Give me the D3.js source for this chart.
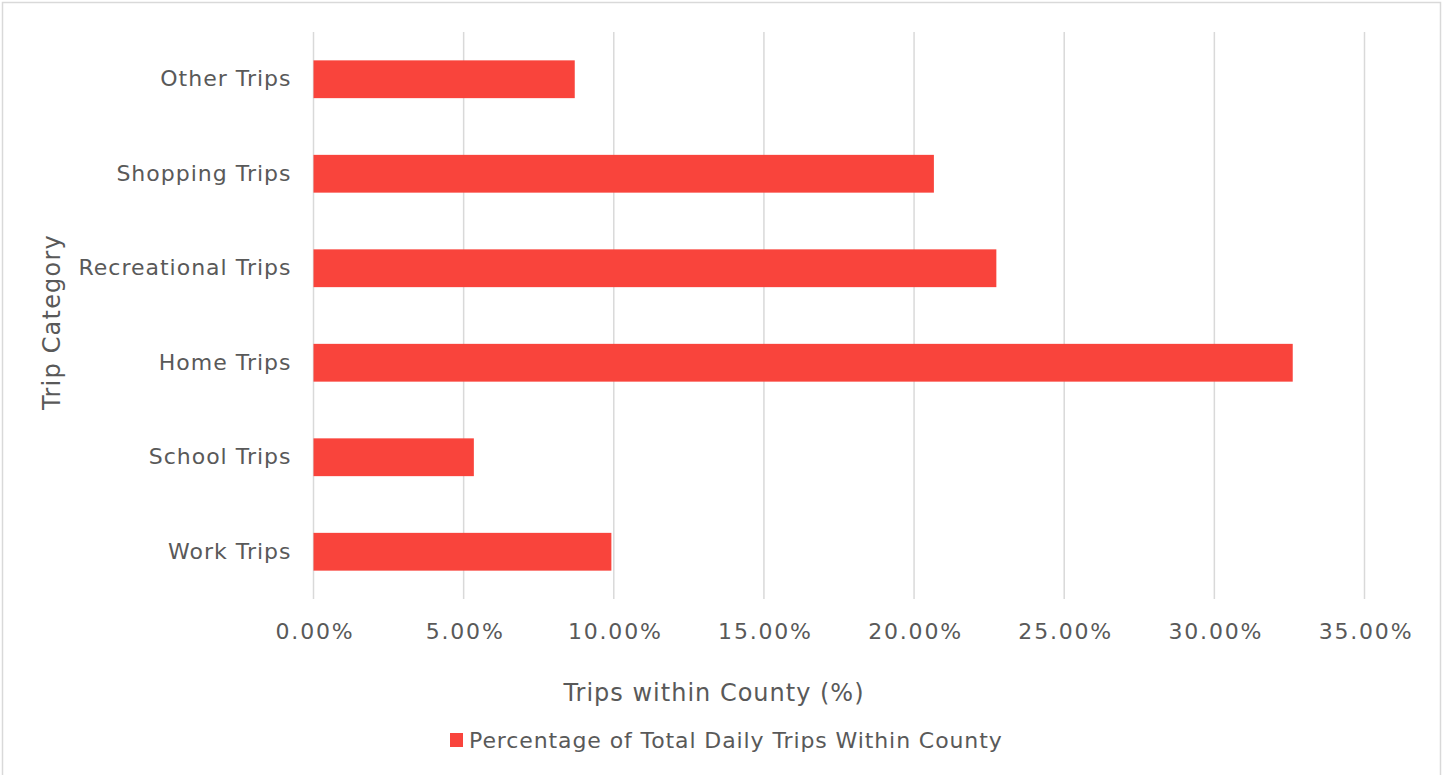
<!DOCTYPE html>
<html>
<head>
<meta charset="utf-8">
<script src="https://cdn.jsdelivr.net/npm/d3@7"></script>
<style>
html,body{margin:0;padding:0;background:#fff;}
svg{display:block;}
text{font-family:"DejaVu Sans",sans-serif;fill:#595959;}
</style>
</head>
<body>
<svg id="chart" width="1443" height="775"></svg>
<script>
const categories = ["Other Trips","Shopping Trips","Recreational Trips","Home Trips","School Trips","Work Trips"];
const values = [8.70, 20.66, 22.74, 32.61, 5.34, 9.92];
const tickValues = [0,5,10,15,20,25,30,35];
const seriesName = "Percentage of Total Daily Trips Within County";
const xTitle = "Trips within County (%)";
const yTitle = "Trip Category";

const svg = d3.select("#chart");
const W = 1443, H = 775;
const barColor = "#f9443c";
const textColor = "#595959";
const FONT = '"DejaVu Sans",sans-serif';

// outer chart border
svg.append("rect").attr("x",2.5).attr("y",2.5).attr("width",W-5).attr("height",H+10)
  .attr("fill","#fff").attr("stroke","#d9d9d9").attr("stroke-width",1.5);

const plot = {left:313.5, right:1364.5, top:32, bottom:599};
const x = d3.scaleLinear().domain([0,35]).range([plot.left, plot.right]);
const y = d3.scaleBand().domain(categories).range([plot.top, plot.bottom]).paddingInner(0.6).paddingOuter(0.3);

// gridlines
svg.append("g").selectAll("line").data(tickValues).join("line")
  .attr("x1",d=>x(d)).attr("x2",d=>x(d))
  .attr("y1",plot.top).attr("y2",plot.bottom)
  .attr("stroke","#d9d9d9").attr("stroke-width",1.5);

// bars
svg.append("g").selectAll("rect").data(values).join("rect")
  .attr("x",x(0))
  .attr("y",(d,i)=>y(categories[i]))
  .attr("width",d=>x(d)-x(0))
  .attr("height",y.bandwidth())
  .attr("fill",barColor);

// x axis
const xAxis = d3.axisBottom(x).tickValues(tickValues).tickSize(0).tickPadding(0)
  .tickFormat(d=>d.toFixed(2)+"%");
const gx = svg.append("g").attr("transform",`translate(0,${plot.bottom+32})`).call(xAxis);
gx.select(".domain").remove();
gx.selectAll("text").attr("font-size",22).attr("fill",textColor).attr("dy","0.35em")
  .style("font-family",FONT).attr("letter-spacing",1.8).attr("dx",1);

// y axis
const yAxis = d3.axisLeft(y).tickSize(0).tickPadding(22);
const gy = svg.append("g").attr("transform",`translate(${plot.left},0)`).call(yAxis);
gy.select(".domain").remove();
gy.selectAll("text").attr("font-size",22).attr("fill",textColor)
  .style("font-family",FONT).attr("letter-spacing",1);

// axis titles
svg.append("text").attr("x",714).attr("y",693).attr("dy","0.35em")
  .attr("text-anchor","middle").attr("font-size",24).attr("letter-spacing",1).text(xTitle);
svg.append("text").attr("transform","translate(52,322) rotate(-90)").attr("dy","0.35em")
  .attr("text-anchor","middle").attr("font-size",24).attr("letter-spacing",1.2).text(yTitle);

// legend
const lg = svg.append("g").attr("transform","translate(450,740)");
lg.append("rect").attr("x",0).attr("y",-7).attr("width",13).attr("height",14).attr("fill",barColor);
lg.append("text").attr("x",19).attr("y",0).attr("dy","0.35em").attr("font-size",22)
  .attr("letter-spacing",0.9).text(seriesName);
</script>
</body>
</html>
